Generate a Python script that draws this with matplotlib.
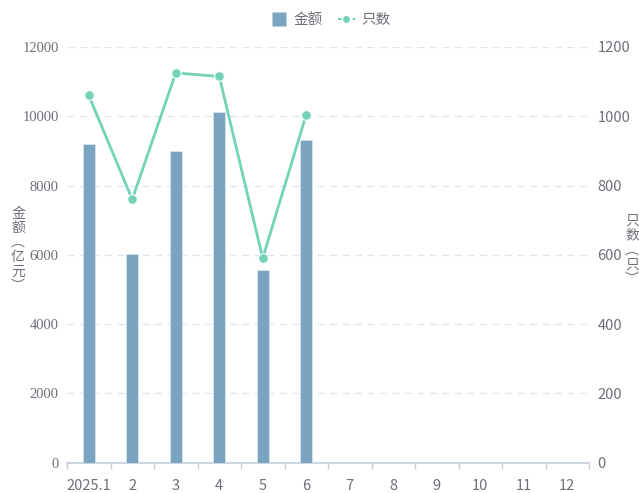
import matplotlib
matplotlib.use("Agg")
import matplotlib.pyplot as plt
import numpy as np
from matplotlib.lines import Line2D

plt.rcParams['font.family'] = ['Noto Sans CJK SC', 'DejaVu Sans']

categories = ['2025.1', '2', '3', '4', '5', '6', '7', '8', '9', '10', '11', '12']
amount = [9200, 6030, 9000, 10120, 5560, 9310]
count = [1060, 760, 1125, 1115, 590, 1005]
left_ticks = [0, 2000, 4000, 6000, 8000, 10000, 12000]
right_ticks = [0, 200, 400, 600, 800, 1000, 1200]

bar_color = '#7ba4c0'
line_color = '#72d3b9'
text_color = '#6e7079'
grid_color = '#e0e6f1'
axis_color = '#c5cfdc'

fig = plt.figure(figsize=(6.39, 4.93), dpi=100)
ax = fig.add_axes([67/639, 30.5/493, 522/639, 415.5/493])
ax2 = ax.twinx()

x = np.arange(len(categories))
xa = np.arange(len(amount))
ax.bar(xa, amount, width=0.28, color=bar_color, edgecolor='#d6e3ec', linewidth=0.6, zorder=3)
ax.set_xlim(-0.5, len(categories) - 0.5)
ax.set_ylim(0, 12000)
ax.set_yticks(left_ticks)
ax.set_yticklabels([str(v) for v in left_ticks], family='Liberation Serif', fontsize=10.5, color=text_color)
ax.tick_params(axis='y', length=0, pad=6)
ax.grid(axis='y', color=grid_color, linestyle=(0, (5, 4)), linewidth=1, zorder=0)
ax.set_axisbelow(True)

ax.set_xticks(x)
ax.set_xticklabels(categories, fontsize=10.5, color=text_color)
ax.set_xticks(np.arange(-0.5, len(categories), 1.0), minor=True)
ax.tick_params(axis='x', which='major', length=0, pad=12)
ax.tick_params(axis='x', which='minor', length=4, color=axis_color, width=1)

for s in ['top', 'right', 'left']:
    ax.spines[s].set_visible(False)
ax.spines['bottom'].set_color(axis_color)
ax.spines['bottom'].set_linewidth(1.2)
for s in ['top', 'right', 'left', 'bottom']:
    ax2.spines[s].set_visible(False)

ax2.plot(xa, count, color=line_color, linewidth=2, marker='o', markersize=7,
         markerfacecolor=line_color, markeredgecolor='white', markeredgewidth=0.8, zorder=5)
ax2.set_ylim(0, 1200)
ax2.set_yticks(right_ticks)
ax2.set_yticklabels([str(v) for v in right_ticks], fontsize=10.5, color=text_color)
ax2.tick_params(axis='y', length=0, pad=6)

fig.text(18/639, 1 - 250/493, '金\n额\n︵\n亿\n元\n︶', ha='center', va='center',
         fontsize=10, color=text_color, linespacing=1.05)
fig.text(632/639, 1 - 250/493, '只\n数\n︵\n只\n︶', ha='center', va='center',
         fontsize=10, color=text_color, linespacing=1.05)

handles = [Line2D([0], [0], color='none', marker='s', markersize=10,
                  markerfacecolor=bar_color, markeredgecolor='none'),
           Line2D([0], [0], color=line_color, linewidth=1.5, linestyle=(0, (2, 1.5)), marker='o', markersize=6,
                  markerfacecolor=line_color, markeredgecolor='white')]
leg = fig.legend(handles, ['金额', '只数'], loc='center', bbox_to_anchor=(0.517, 1 - 20/493),
                 ncol=2, frameon=False, fontsize=10.5, handlelength=1.2, handletextpad=0.4,
                 columnspacing=1.0, labelcolor=text_color)

fig.savefig('out.png', dpi=100)
